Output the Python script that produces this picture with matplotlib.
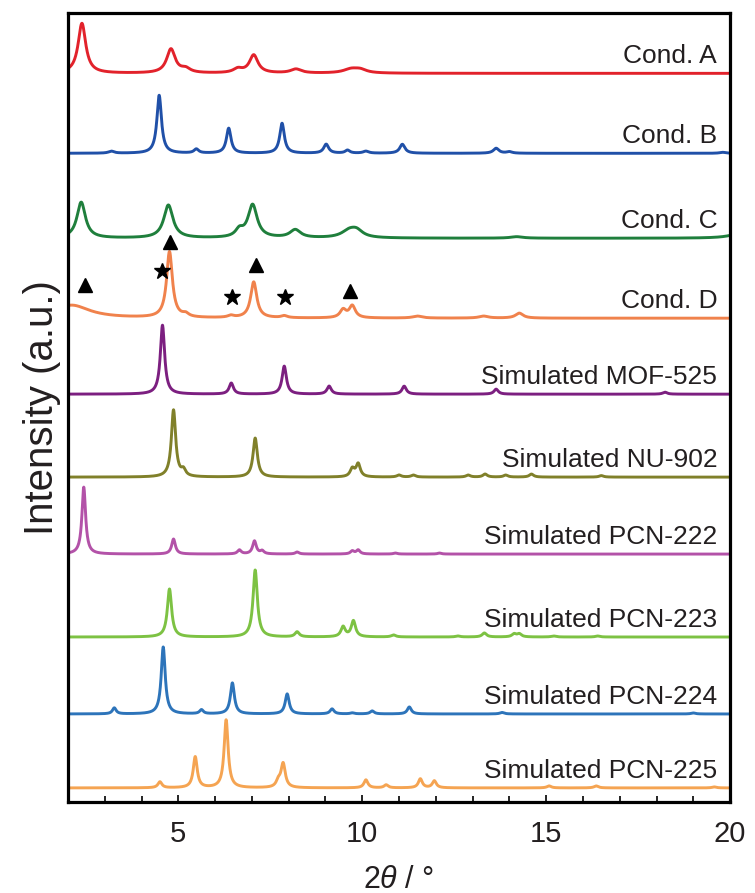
import numpy as np
import matplotlib
matplotlib.use('Agg')
import matplotlib.pyplot as plt

plt.rcParams['font.family'] = ['Liberation Sans', 'DejaVu Sans']
plt.rcParams['mathtext.fontset'] = 'custom'
plt.rcParams['mathtext.it'] = 'Liberation Sans:italic'
plt.rcParams['mathtext.rm'] = 'Liberation Sans'

# patterns, top to bottom: label, colour, vertical offset, peaks (2theta, height, fwhm)
labels = ['Cond. A', 'Cond. B', 'Cond. C', 'Cond. D',
          'Simulated MOF-525', 'Simulated NU-902', 'Simulated PCN-222',
          'Simulated PCN-223', 'Simulated PCN-224', 'Simulated PCN-225']
colors = ['#e2222b', '#2050a8', '#1f7f3c', '#f0824c',
          '#7c1f80', '#80802a', '#b352a8',
          '#7dc243', '#2d74ba', '#f5a452']
offsets = [729, 649, 564, 484, 408, 325, 248, 165, 88, 14]

peaks_A = [(2.38, 50, 0.25), (4.80, 24, 0.28), (5.2, 4, 0.3), (6.62, 4, 0.3),
           (7.05, 18, 0.28), (8.2, 4, 0.35), (9.7, 4, 0.5), (9.95, 3, 0.4)]
peaks_B = [(3.18, 2, 0.18), (4.48, 58, 0.15), (5.49, 4, 0.15), (6.37, 25, 0.15),
           (7.82, 30, 0.15), (9.02, 9, 0.16), (9.6, 3, 0.15), (10.1, 2, 0.18),
           (11.09, 9, 0.17), (13.64, 5, 0.18), (14.0, 1.5, 0.18), (19.8, 1, 0.2)]
peaks_C = [(2.36, 36, 0.28), (4.73, 33, 0.3), (6.66, 7, 0.25), (7.02, 33, 0.3),
           (8.18, 8, 0.35), (9.65, 7, 0.5), (9.85, 6, 0.4), (14.2, 1.5, 0.4),
           (20.3, 5, 0.7)]
peaks_D = [(2.1, 13, 1.2), (4.76, 66, 0.19), (5.2, 3, 0.2), (6.43, 2, 0.2),
           (7.05, 36, 0.2), (7.88, 2, 0.2), (9.48, 8, 0.2), (9.73, 12, 0.2),
           (11.5, 2, 0.3), (13.3, 2, 0.3), (14.27, 5, 0.25)]
peaks_MOF525 = [(4.57, 69, 0.14), (6.44, 11, 0.14), (7.88, 28, 0.14), (9.1, 8, 0.14),
                (11.14, 8, 0.14), (13.64, 5, 0.14), (18.23, 2, 0.14)]
peaks_NU902 = [(4.87, 67, 0.14), (5.14, 6, 0.14), (7.09, 39, 0.14), (9.73, 8, 0.14),
               (9.89, 13, 0.14), (11.0, 2, 0.14), (11.39, 2, 0.14), (12.88, 2, 0.14),
               (13.34, 3, 0.14), (13.9, 2, 0.14), (14.6, 3, 0.14), (16.5, 1.5, 0.14)]
peaks_PCN222 = [(2.43, 67, 0.12), (4.87, 15, 0.12), (6.66, 4, 0.12), (7.07, 13, 0.12),
                (7.28, 3, 0.12), (8.23, 2, 0.12), (9.73, 3, 0.12), (9.89, 4, 0.12),
                (10.9, 1, 0.12), (12.1, 1, 0.12)]
peaks_PCN223 = [(4.76, 48, 0.14), (7.09, 67, 0.14), (8.23, 5, 0.14), (9.48, 10, 0.14),
                (9.76, 16, 0.14), (10.85, 2, 0.14), (12.6, 1, 0.14), (13.32, 4, 0.14),
                (14.13, 3, 0.14), (14.27, 3, 0.14), (15.2, 1, 0.14), (16.4, 1, 0.14)]
peaks_PCN224 = [(3.26, 6, 0.12), (4.59, 67, 0.13), (5.63, 4, 0.12), (6.47, 31, 0.13),
                (7.96, 20, 0.13), (9.18, 5, 0.13), (9.73, 1, 0.13), (10.27, 3, 0.13),
                (11.28, 7, 0.13), (13.8, 1.5, 0.14), (19.0, 1, 0.14)]
peaks_PCN225 = [(4.5, 6, 0.13), (5.46, 31, 0.13), (6.3, 68, 0.13), (7.72, 6, 0.14),
                (7.85, 24, 0.14), (10.1, 8, 0.13), (10.65, 3, 0.13), (11.58, 9, 0.13),
                (11.96, 7, 0.13), (15.08, 2, 0.14), (16.36, 2, 0.14), (19.57, 1, 0.14)]
all_peaks = [peaks_A, peaks_B, peaks_C, peaks_D, peaks_MOF525, peaks_NU902,
             peaks_PCN222, peaks_PCN223, peaks_PCN224, peaks_PCN225]

# phase markers on Cond. D
tri_x = [2.45, 4.78, 7.12, 9.68]
tri_y = [517, 560, 537, 511]
star_x = [4.57, 6.47, 7.91]
star_y = [531, 505, 505]

two_theta = np.linspace(2, 20, 3601)


def pattern(peaks):
    y = np.zeros_like(two_theta)
    for pos, h, w in peaks:
        y += h / (1 + ((two_theta - pos) / (w / 2)) ** 2)
    return y


fig = plt.figure(figsize=(7.55, 8.93), dpi=100)
ax = fig.add_axes([0.090, 0.102, 0.877, 0.883])

for lab, c, off, pk in zip(labels, colors, offsets, all_peaks):
    ax.plot(two_theta, off + pattern(pk), color=c, lw=2.1)
    ax.text(19.65, off + 10, lab, ha='right', va='baseline', fontsize=19, color='#231f20')

ax.plot(tri_x, tri_y, ls='none', marker='^', ms=10, color='black')
ax.plot(star_x, star_y, ls='none', marker='*', ms=12, color='black')

ax.set_xlim(2, 20)
ax.set_ylim(0, 789)
ax.set_xticks([5, 10, 15, 20])
ax.set_xticks(np.arange(3, 20, 1), minor=True)
ax.set_yticks([])
ax.tick_params(axis='x', which='both', direction='in', width=1.2, labelsize=21,
               labelcolor='#231f20', pad=13)
ax.tick_params(axis='x', which='major', length=5)
ax.tick_params(axis='x', which='minor', length=4)
for s in ax.spines.values():
    s.set_linewidth(2.3)

ax.set_xlabel(r'2$\it{\theta}$ / °', fontsize=22, color='#231f20', labelpad=12)
ax.set_ylabel('Intensity (a.u.)', fontsize=29, color='#231f20', labelpad=5)

fig.savefig('out.png', dpi=100)
